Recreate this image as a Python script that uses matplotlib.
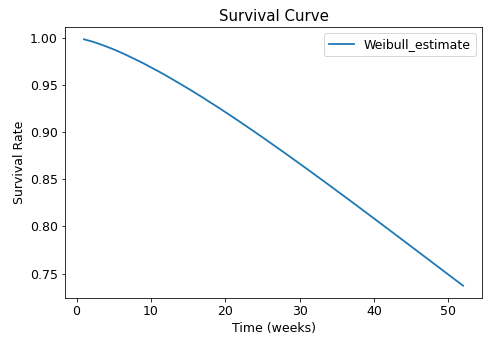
import matplotlib
matplotlib.use('Agg')
import matplotlib.pyplot as plt

# weeks and estimated survival
weeks = [1, 2, 3, 4, 5, 6, 7, 8, 9, 10, 11, 12, 13, 14, 15, 16, 17, 18, 19,
         20, 21, 22, 25, 28, 31, 34, 37, 40, 43, 46, 49, 52]
weibull_estimate = [0.9987, 0.9966, 0.9940, 0.9911, 0.9880, 0.9846, 0.9809,
                    0.9771, 0.9732, 0.9690, 0.9648, 0.9604, 0.9558, 0.9512,
                    0.9465, 0.9417, 0.9368, 0.9317, 0.9267, 0.9215, 0.9163,
                    0.9110, 0.8948, 0.8781, 0.8611, 0.8438, 0.8263, 0.8086,
                    0.7908, 0.7729, 0.7550, 0.7371]

plt.rcParams['font.size'] = 12.5

fig = plt.figure(figsize=(492 / 72, 355 / 72), dpi=72)
ax = fig.add_axes([65 / 492, 1 - 298 / 355, (482 - 65) / 492, (298 - 27) / 355])

ax.plot(weeks, weibull_estimate, color='#1f77b4', linewidth=1.8, label='Weibull_estimate')

ax.set_title('Survival Curve')
ax.set_xlabel('Time (weeks)')
ax.set_ylabel('Survival Rate')
ax.set_yticks([0.75, 0.80, 0.85, 0.90, 0.95, 1.00])
ax.legend(loc='upper right')

fig.savefig('out.png', dpi=72)
